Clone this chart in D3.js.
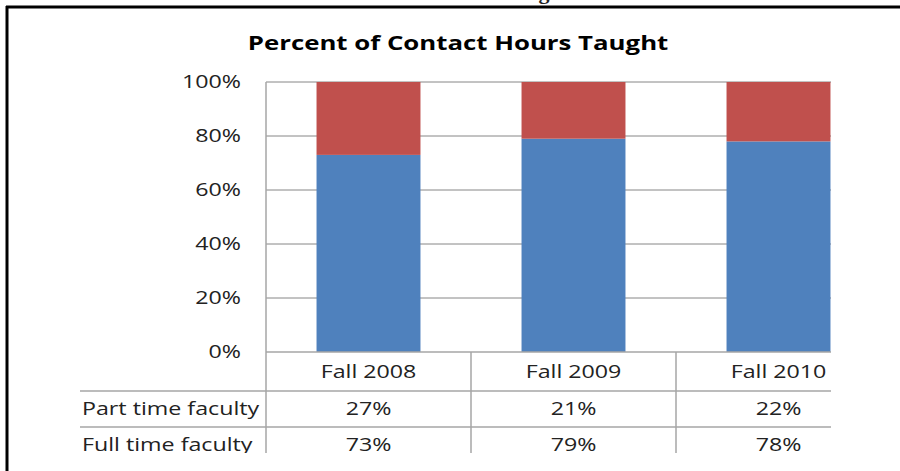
<!DOCTYPE html>
<html>
<head>
<meta charset="utf-8">
<script src="https://cdn.jsdelivr.net/npm/d3@7"></script>
<style>
  body { margin: 0; background: #fff; }
  svg { display: block; }
  text { font-family: 'Open Sans', sans-serif; fill: #222; }
</style>
</head>
<body>
<svg id="chart" width="900" height="471"></svg>
<script>
const categories = ['Fall 2008', 'Fall 2009', 'Fall 2010'];
const seriesNames = ['Part time faculty', 'Full time faculty'];
const partTime = [27, 21, 22];
const fullTime = [73, 79, 78];
const yTicks = [0, 20, 40, 60, 80, 100];

const BLUE = '#4f81bd';
const RED = '#c0504d';
const GRID = '#868686';
const TABLE = '#a6a6a6';
// the source picture is stretched sideways, so glyphs are wider than tall
const STRETCH = 1.29;

const svg = d3.select('#chart');

// page frame (top + left rule of the surrounding document box)
svg.append('line').attr('x1', 6).attr('x2', 900).attr('y1', 7).attr('y2', 7)
  .attr('stroke', '#000').attr('stroke-width', 3);
svg.append('line').attr('x1', 7).attr('x2', 7).attr('y1', 6).attr('y2', 471)
  .attr('stroke', '#000').attr('stroke-width', 3);

// descender of the heading that sits above the frame
svg.append('text')
  .attr('x', 544).attr('y', -1)
  .attr('text-anchor', 'middle')
  .style('font-family', 'Liberation Serif, serif')
  .style('font-size', '22px')
  .style('font-weight', 'bold')
  .text('g');

// the chart picture is cropped on the right and bottom
svg.append('clipPath').attr('id', 'crop')
  .append('rect').attr('x', 0).attr('y', 0).attr('width', 831).attr('height', 453);

const g = svg.append('g').attr('clip-path', 'url(#crop)');

const plot = { left: 266, right: 881, top: 82, bottom: 352 };
const rowH = 36;

const x = d3.scaleBand()
  .domain(categories)
  .range([plot.left, plot.right])
  .paddingInner(0.493)
  .paddingOuter(0.2465);

const col = d3.scaleBand()
  .domain(categories)
  .range([plot.left, plot.right]);

const y = d3.scaleLinear()
  .domain([0, 100])
  .range([plot.bottom, plot.top]);

function label(parent, txt, px, py, anchor, size) {
  return parent.append('text')
    .attr('transform', `translate(${px},${py}) scale(${STRETCH},1)`)
    .attr('dy', '0.35em')
    .attr('text-anchor', anchor)
    .style('font-size', size)
    .text(txt);
}

// title
label(g, 'Percent of Contact Hours Taught', 458, 43, 'middle', '20px')
  .style('font-weight', 'bold')
  .style('fill', '#000');

// gridlines
g.append('g')
  .selectAll('line')
  .data(yTicks.filter(d => d > 0))
  .join('line')
  .attr('x1', plot.left).attr('x2', plot.right)
  .attr('y1', d => y(d)).attr('y2', d => y(d))
  .attr('stroke', GRID).attr('stroke-width', 1);

// y axis labels
const yAxis = d3.axisLeft(y)
  .tickValues(yTicks)
  .tickFormat(d => d + '%')
  .tickSize(0)
  .tickPadding(25);
const yAxisEl = g.append('g')
  .attr('transform', `translate(${plot.left},0)`)
  .call(yAxis);
yAxisEl.select('.domain').remove();
yAxisEl.selectAll('text')
  .attr('x', 0)
  .attr('transform', `translate(-25,0) scale(${STRETCH},1)`)
  .style('font-family', "'Open Sans', sans-serif")
  .style('font-size', '18px')
  .style('fill', '#222');

// stacked bars
const stacked = categories.map((c, i) => ({ key: c, full: fullTime[i], part: partTime[i] }));
const bars = g.append('g').selectAll('g').data(stacked).join('g');
bars.append('rect')
  .attr('x', d => x(d.key))
  .attr('width', x.bandwidth())
  .attr('y', d => y(d.full))
  .attr('height', d => y(0) - y(d.full))
  .attr('fill', BLUE);
bars.append('rect')
  .attr('x', d => x(d.key))
  .attr('width', x.bandwidth())
  .attr('y', d => y(d.full + d.part))
  .attr('height', d => y(d.full) - y(d.full + d.part))
  .attr('fill', RED);

// data table
const tableLines = g.append('g').attr('stroke', TABLE).attr('stroke-width', 1.5);
tableLines.append('line')
  .attr('x1', plot.left).attr('x2', plot.right)
  .attr('y1', plot.bottom).attr('y2', plot.bottom);
[1, 2].forEach(r => {
  tableLines.append('line')
    .attr('x1', 80).attr('x2', plot.right)
    .attr('y1', plot.bottom + 3 + r * rowH).attr('y2', plot.bottom + 3 + r * rowH);
});
tableLines.selectAll('.vline')
  .data(categories)
  .join('line')
  .attr('class', 'vline')
  .attr('x1', d => col(d)).attr('x2', d => col(d))
  .attr('y1', (d, i) => i === 0 ? plot.top : plot.bottom)
  .attr('y2', 460);

// header row
categories.forEach(c => {
  label(g, c, col(c) + col.bandwidth() / 2, plot.bottom + 20, 'middle', '18px');
});

const rows = [partTime, fullTime];
seriesNames.forEach((name, r) => {
  const cy = plot.bottom + 3 + (r + 1) * rowH + rowH / 2;
  label(g, name, 82, cy, 'start', '18px');
  rows[r].forEach((v, i) => {
    label(g, v + '%', col(categories[i]) + col.bandwidth() / 2, cy, 'middle', '18px');
  });
});
</script>
</body>
</html>
